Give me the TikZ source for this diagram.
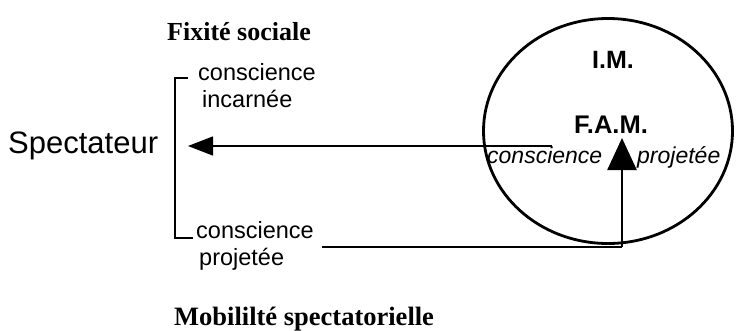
\documentclass[tikz,border=0pt]{standalone}
\usepackage{fontspec}
\setmainfont{Liberation Sans}
\newfontfamily\titlefont{Liberation Serif}
\usetikzlibrary{arrows.meta,shapes.geometric}
\tikzset{
  sanstxt/.style={inner sep=0pt, anchor=base west, font=\fontsize{23.5}{27}\selectfont},
  itxt/.style={inner sep=0pt, anchor=base west, font=\fontsize{23}{27}\selectfont\itshape},
  boldtxt/.style={inner sep=0pt, anchor=base, font=\fontsize{25}{29}\selectfont\bfseries},
  titletxt/.style={inner sep=0pt, anchor=base west, font=\titlefont\bfseries},
  bracketline/.style={line width=2.6pt, line join=miter},
  thinline/.style={line width=1.4pt},
  thickline/.style={line width=2.6pt},
  leftarrow/.style={-{Triangle[length=25pt,width=19pt]}},
  uparrow/.style={-{Triangle[length=32pt,width=29pt]}}
}
\begin{document}
\begin{tikzpicture}[x=1pt,y=-1pt]
\useasboundingbox (0,0) rectangle (737,330);
% titles
\node[titletxt, font=\titlefont\bfseries\fontsize{26}{30}\selectfont] (fix) at (167,40.5) {Fixité sociale};
\node[titletxt, font=\titlefont\bfseries\fontsize{26.5}{30}\selectfont] (mob) at (174,325) {Mobililté spectatorielle};
% spectateur
\node[sanstxt, font=\fontsize{31}{34}\selectfont] (spec) at (8,153) {Spectateur};
% bracket
\coordinate (btop) at (188,78);
\coordinate (bcorner1) at (175,78);
\coordinate (bcorner2) at (175,238);
\coordinate (bbot) at (193,238);
\draw[bracketline] (btop) -- (bcorner1) -- (bcorner2) -- (bbot);
% bracket texts
\node[sanstxt] (ci1) at (198,80) {conscience};
\node[sanstxt] (ci2) at (202,107) {incarnée};
\node[sanstxt] (cp1) at (196,238) {conscience};
\node[sanstxt] (cp2) at (199,265) {projetée};
% ellipse
\node[draw, ellipse, line width=2.8pt, minimum width=249pt, minimum height=225pt, inner sep=0pt] (circ) at (608,131) {};
\node[boldtxt] (im) at (613,68) {I.M.};
\node[boldtxt, font=\fontsize{25.5}{29}\selectfont\bfseries] (fam) at (611,133) {F.A.M.};
\node[itxt] (pc1) at (487,163) {conscience};
\node[itxt] (pc2) at (637,163) {projetée};
% horizontal arrow to spectateur
\coordinate (hstart) at (552,146);
\coordinate (htip) at (188,146);
\draw[thinline, leftarrow] (hstart) -- (htip);
% bottom line and vertical arrow
\coordinate (lstart) at (322,247);
\coordinate (lcorner) at (622,247);
\coordinate (vtip) at (622,138);
\draw[thickline, line join=miter] (lstart) -- (lcorner);
\draw[thickline, uparrow] (lcorner) -- (vtip);
\end{tikzpicture}
\end{document}
